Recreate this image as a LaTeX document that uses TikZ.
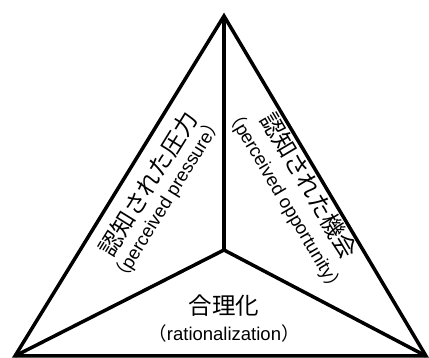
\documentclass[tikz,border=0pt]{standalone}
\usepackage{fontspec}
\setmainfont{Liberation Sans}
\newfontfamily\jpfont{Noto Sans CJK JP}
\usetikzlibrary{positioning}

\begin{document}
\begin{tikzpicture}[x=1pt, y=-1pt,
  edge/.style={line width=3.5pt, line join=miter},
  en/.style={inner sep=0pt, font=\fontsize{18.5}{22}\selectfont},
  jp/.style={inner sep=0pt, font=\jpfont\fontsize{23.5}{26}\selectfont}
]
  \useasboundingbox (0,0) rectangle (429,358);

  \coordinate (top) at (224,16);
  \coordinate (bl)  at (15,356);
  \coordinate (br)  at (426,356);
  \coordinate (ctr) at (224,250);

  \draw[edge] (top) -- (bl) -- (br) -- cycle;
  \draw[edge] (ctr) -- (top);
  \draw[edge] (ctr) -- (bl);
  \draw[edge] (ctr) -- (br);

  % left: pressure
  \node[jp, rotate=58.3] (pressjp) at (148,183.5) {認知された圧力};
  \node[en, rotate=58.3] (pressen) at (167,200) {{\jpfont （}perceived pressure{\jpfont ）}};
  % right: opportunity
  \node[jp, rotate=-59.3] (oppojp) at (309,185.5) {認知された機会};
  \node[en, rotate=-59.3] (oppoen) at (285,201) {{\jpfont （}perceived opportunity{\jpfont ）}};
  % bottom: rationalization
  \node[jp] (ratiojp) at (224,306) {合理化};
  \node[en] (ratioen) at (224,333) {{\jpfont （}rationalization{\jpfont ）}};
\end{tikzpicture}
\end{document}
